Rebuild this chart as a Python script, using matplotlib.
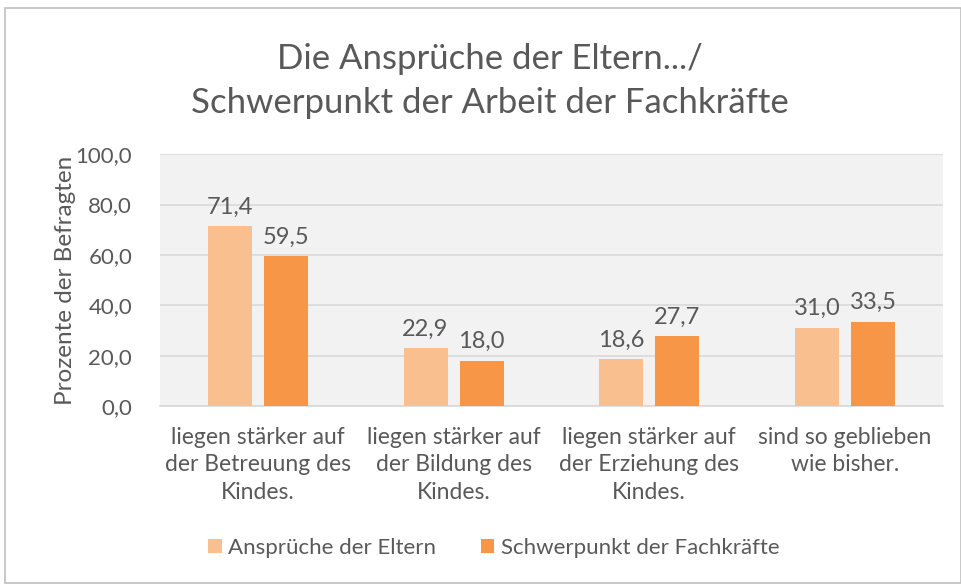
import numpy as np
import matplotlib.pyplot as plt
from matplotlib.patches import Rectangle

# Daten
kategorien = ["liegen stärker auf\nder Betreuung des\nKindes.",
              "liegen stärker auf\nder Bildung des\nKindes.",
              "liegen stärker auf\nder Erziehung des\nKindes.",
              "sind so geblieben\nwie bisher."]
eltern = [71.4, 22.9, 18.6, 31.0]
fachkraefte = [59.5, 18.0, 27.7, 33.5]
serien = ["Ansprüche der Eltern", "Schwerpunkt der Fachkräfte"]
yticks = [0, 20, 40, 60, 80, 100]

plt.rcParams['font.family'] = ['Lato', 'DejaVu Sans']
txt = '#595959'
hell = '#f9bf8f'
dunkel = '#f79646'

fig = plt.figure(figsize=(9.61, 5.86), dpi=100)
fig.patches.append(Rectangle((0.005, 0.005), 0.995, 0.982, transform=fig.transFigure,
                             fill=False, edgecolor='#bfbfbf', linewidth=1.2))

ax = fig.add_axes([0.1665, 0.307, 0.8145, 0.430])
ax.set_facecolor('#f2f2f2')

x = np.arange(len(kategorien))
w = 0.225
off = 0.143
b1 = ax.bar(x - off, eltern, w, color=hell, label=serien[0], zorder=3)
b2 = ax.bar(x + off, fachkraefte, w, color=dunkel, label=serien[1], zorder=3)

for bars, vals in ((b1, eltern), (b2, fachkraefte)):
    for r, v in zip(bars, vals):
        ax.text(r.get_x() + r.get_width() / 2, v + 3.5, f"{v:.1f}".replace('.', ','),
                ha='center', va='bottom', fontsize=17, color=txt)

ax.set_xlim(-0.5, len(kategorien) - 0.5)
ax.set_ylim(0, 100)
ax.set_yticks(yticks)
ax.set_yticklabels([f"{t:.1f}".replace('.', ',') for t in yticks], fontsize=16, color=txt)
ax.set_xticks(x)
ax.set_xticklabels(kategorien, fontsize=16.5, color=txt, linespacing=1.38)
ax.tick_params(length=0)
ax.tick_params(axis='x', pad=15)
ax.tick_params(axis='y', pad=20)
ax.grid(axis='y', color='#d9d9d9', linewidth=1.2, zorder=0)
for s in ['top', 'right', 'left']:
    ax.spines[s].set_visible(False)
ax.spines['bottom'].set_color('#d9d9d9')
ax.spines['bottom'].set_linewidth(1.2)

ax.set_ylabel("Prozente der Befragten", fontsize=17.5, color=txt, labelpad=0)

fig.text(0.51, 0.900, "Die Ansprüche der Eltern.../", ha='center', va='center',
         fontsize=25, color=txt)
fig.text(0.51, 0.824, "Schwerpunkt der Arbeit der Fachkräfte", ha='center', va='center',
         fontsize=25, color=txt)

fig.legend(handles=[b1, b2], labels=serien, loc='center', bbox_to_anchor=(0.514, 0.065),
           ncol=2, frameon=False, fontsize=16, labelcolor=txt, handlelength=0.6,
           handleheight=0.6, columnspacing=2.0, handletextpad=0.3)

fig.savefig("out.png", dpi=100)
